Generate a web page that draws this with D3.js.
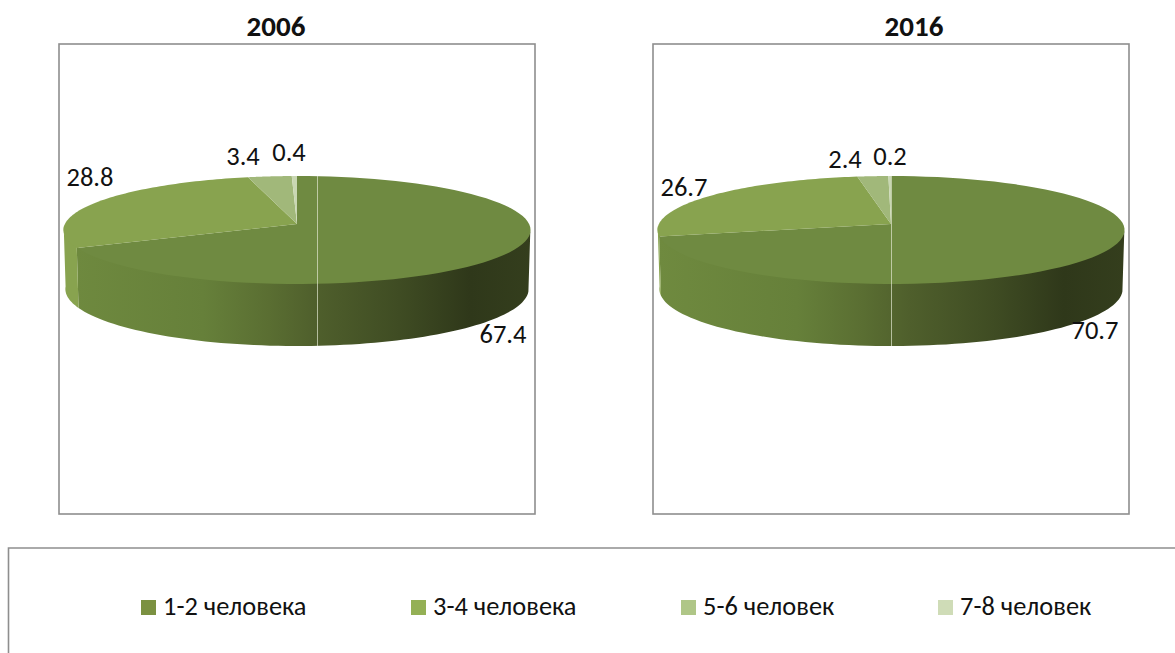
<!DOCTYPE html>
<html><head><meta charset="utf-8">
<script src="https://cdn.jsdelivr.net/npm/d3@7/dist/d3.min.js"></script>
<style>html,body{margin:0;padding:0;background:#fff;overflow:hidden}text{font-family:Carlito,Lato,"Noto Sans",sans-serif;fill:#111}</style>
</head><body>
<script>
const categories = ["1-2 человека","3-4 человека","5-6 человек","7-8 человек"];
const years = ["2006","2016"];
const values2006 = [67.4,28.8,3.4,0.4];
const values2016 = [70.7,26.7,2.4,0.2];
const topColors = ["#6f8a41","#88a34f","#a1b87a","#c9d7b3"];
const legendColors = ["#7b9141","#94b055","#afc687","#cfdcb7"];

const W=1175,H=653;
const svg=d3.select("body").append("svg").attr("width",W).attr("height",H).style("display","block");
const defs=svg.append("defs");

const panels=[
 {year:years[0],values:values2006,frame:[59,44,535,514],cx:297,seam:317,titleX:276,
  labels:[[503,334],[90,177],[243,156],[289,152]]},
 {year:years[1],values:values2016,frame:[653,44,1129,514],cx:891,seam:891,titleX:914,
  labels:[[1095,330],[684,187],[845,159],[890,156]]}
];
const pie=d3.pie().sort(null).startAngle(0).endAngle(2*Math.PI);
const P=0.111, line=d3.line(), WARP=0.045;
const topP={apex:224,s:53.3,R:232.1}, botP={apex:282.7,s:56.3,R:230.2};
const vis=[Math.PI-Math.acos(P),Math.PI+Math.acos(P)];
// perspective projection of a point on the pie's rim (angle clockwise from the far side)
function warp(a){return a+WARP*Math.sin(a)*Math.sin(a);}
function proj(cx,g,a0,lift){const a=warp(a0),d=1+P*Math.cos(a);return [cx+g.R*Math.sin(a)/d,g.apex-g.s*Math.cos(a)/d-(lift||0)];}
function samples(a0,a1){return d3.range(0,81).map(i=>a0+(a1-a0)*i/80);}

function sideGradient(id,x0,stops){
  const g=defs.append("linearGradient").attr("id",id).attr("gradientUnits","userSpaceOnUse")
   .attr("x1",x0).attr("x2",x0+467).attr("y1",0).attr("y2",0);
  stops.forEach(s=>g.append("stop").attr("offset",s[0]).attr("stop-color",s[1]));
}

panels.forEach((p,pi)=>{
  const g=svg.append("g");
  const [x0,y0,x1,y1]=p.frame;
  g.append("rect").attr("x",x0).attr("y",y0).attr("width",x1-x0).attr("height",y1-y0)
    .attr("fill","#fff").attr("stroke","#8e8e8e").attr("stroke-width",1.6);
  g.append("text").attr("x",p.titleX).attr("y",36).attr("text-anchor","middle")
    .attr("font-size",29).attr("font-weight","bold").text(p.year);

  const arcs=pie(p.values);
  const left=p.cx-233.5;
  sideGradient("side"+pi,left,[[0,"#6f8a3f"],[0.3,"#66803a"],[0.44,"#5a6e32"],[0.54,"#4f5f2c"],[0.72,"#3f4c23"],[0.87,"#2f381a"],[1,"#343e1d"]]);

  // side walls (upper edge slightly lifted so the top face covers it without a seam)
  arcs.forEach((a,i)=>{
    const s=Math.max(a.startAngle,vis[0]), e=Math.min(a.endAngle,vis[1]);
    if(e<=s) return;
    const upper=samples(s,e).map(t=>proj(p.cx,topP,t,1.5));
    const lower=samples(e,s).map(t=>proj(p.cx,botP,t));
    g.append("path").attr("d",line(upper.concat(lower))+"Z")
      .attr("fill",i===0?`url(#side${pi})`:topColors[i]);
  });
  // top faces
  arcs.forEach((a,i)=>{
    const pts=samples(a.startAngle,a.endAngle).map(t=>proj(p.cx,topP,t));
    pts.unshift([p.cx,topP.apex]);
    g.append("path").attr("d",line(pts)+"Z").attr("fill",topColors[i]);
  });
  // light seam
  g.append("line").attr("x1",p.seam+.5).attr("x2",p.seam+.5).attr("y1",176).attr("y2",346)
    .attr("stroke","#dfe5cf").attr("stroke-opacity",.7).attr("stroke-width",1);

  // value labels
  p.values.forEach((v,i)=>{
    g.append("text").attr("x",p.labels[i][0]).attr("y",p.labels[i][1]).attr("dy","0.33em")
      .attr("text-anchor","middle").attr("font-size",26.5).text(v.toFixed(1));
  });
});

// legend box
svg.append("path").attr("d","M8.5,660V548H1180").attr("fill","none").attr("stroke","#8e8e8e").attr("stroke-width",1.6);
const legendX=[141,411,681,938];
const lg=svg.append("g").selectAll("g").data(categories).join("g")
  .attr("transform",(d,i)=>`translate(${legendX[i]},600)`);
lg.append("rect").attr("width",15).attr("height",15).attr("fill",(d,i)=>legendColors[i]);
lg.append("text").attr("x",22).attr("y",15).attr("font-size",26.4).text(d=>d);
</script>
</body></html>
